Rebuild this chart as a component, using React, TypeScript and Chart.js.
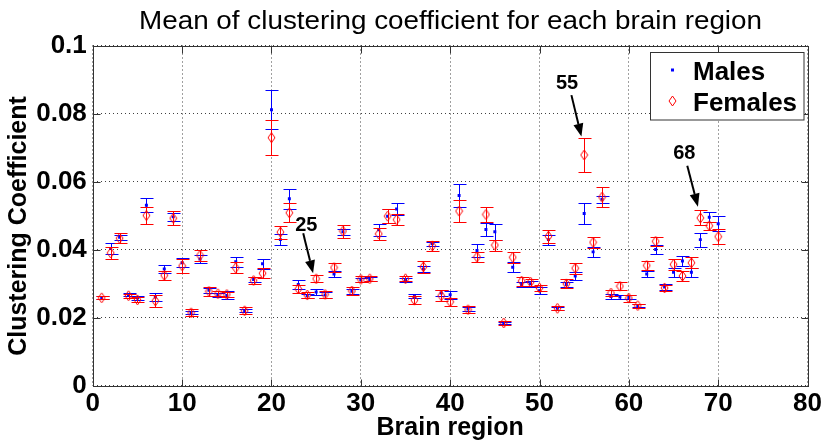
import { useEffect, useRef } from 'react';
import { Chart, registerables } from 'chart.js';

Chart.register(...registerables);

// Brain region index (1..70)
const regions = [
  1, 2, 3, 4, 5, 6, 7, 8, 9, 10, 11, 12, 13, 14, 15, 16, 17, 18, 19, 20,
  21, 22, 23, 24, 25, 26, 27, 28, 29, 30, 31, 32, 33, 34, 35, 36, 37, 38, 39, 40,
  41, 42, 43, 44, 45, 46, 47, 48, 49, 50, 51, 52, 53, 54, 55, 56, 57, 58, 59, 60,
  61, 62, 63, 64, 65, 66, 67, 68, 69, 70,
];

const malesMean = [
  0.0259, 0.0403, 0.0436, 0.0267, 0.0257, 0.0530, 0.0260, 0.0343, 0.0496, 0.0361,
  0.0214, 0.0372, 0.0280, 0.0266, 0.0265, 0.0364, 0.0220, 0.0312, 0.0358, 0.0811,
  0.0429, 0.0549, 0.0297, 0.0264, 0.0275, 0.0266, 0.0328, 0.0452, 0.0277, 0.0311,
  0.0312, 0.0458, 0.0498, 0.0519, 0.0310, 0.0262, 0.0343, 0.0417, 0.0272, 0.0267,
  0.0559, 0.0225, 0.0397, 0.0459, 0.0452, 0.0184, 0.0348, 0.0297, 0.0299, 0.0279,
  0.0429, 0.0227, 0.0297, 0.0322, 0.0506, 0.0393, 0.0548, 0.0262, 0.0260, 0.0259,
  0.0235, 0.0328, 0.0400, 0.0290, 0.0333, 0.0366, 0.0333, 0.0429, 0.0495, 0.0476,
];

const malesErr = [
  0.0004, 0.0015, 0.0008, 0.0005, 0.0006, 0.0021, 0.0011, 0.0011, 0.0012, 0.0013,
  0.0005, 0.0012, 0.0007, 0.0006, 0.0012, 0.0014, 0.0005, 0.0008, 0.0014, 0.0058,
  0.0017, 0.0030, 0.0013, 0.0006, 0.0008, 0.0010, 0.0010, 0.0008, 0.0007, 0.0006,
  0.0006, 0.0018, 0.0020, 0.0017, 0.0007, 0.0006, 0.0008, 0.0006, 0.0008, 0.0012,
  0.0033, 0.0006, 0.0018, 0.0018, 0.0024, 0.0004, 0.0015, 0.0008, 0.0008, 0.0010,
  0.0015, 0.0005, 0.0008, 0.0013, 0.0032, 0.0015, 0.0010, 0.0008, 0.0007, 0.0006,
  0.0005, 0.0010, 0.0013, 0.0008, 0.0013, 0.0015, 0.0013, 0.0021, 0.0014, 0.0023,
];

const femalesMean = [
  0.0258, 0.0390, 0.0433, 0.0264, 0.0252, 0.0500, 0.0249, 0.0324, 0.0492, 0.0352,
  0.0214, 0.0383, 0.0277, 0.0270, 0.0268, 0.0346, 0.0220, 0.0309, 0.0330, 0.0729,
  0.0451, 0.0508, 0.0284, 0.0266, 0.0314, 0.0268, 0.0347, 0.0454, 0.0278, 0.0312,
  0.0314, 0.0446, 0.0498, 0.0488, 0.0314, 0.0251, 0.0349, 0.0411, 0.0264, 0.0246,
  0.0513, 0.0223, 0.0378, 0.0503, 0.0413, 0.0184, 0.0377, 0.0307, 0.0304, 0.0287,
  0.0439, 0.0227, 0.0299, 0.0345, 0.0678, 0.0421, 0.0554, 0.0272, 0.0292, 0.0257,
  0.0235, 0.0353, 0.0424, 0.0287, 0.0356, 0.0322, 0.0361, 0.0493, 0.0470, 0.0438,
];

const femalesErr = [
  0.0005, 0.0017, 0.0015, 0.0006, 0.0007, 0.0025, 0.0017, 0.0013, 0.0021, 0.0020,
  0.0011, 0.0016, 0.0013, 0.0008, 0.0008, 0.0016, 0.0010, 0.0010, 0.0015, 0.0052,
  0.0019, 0.0028, 0.0013, 0.0010, 0.0010, 0.0010, 0.0013, 0.0019, 0.0012, 0.0009,
  0.0008, 0.0017, 0.0020, 0.0017, 0.0008, 0.0011, 0.0017, 0.0015, 0.0016, 0.0011,
  0.0032, 0.0010, 0.0016, 0.0022, 0.0016, 0.0006, 0.0017, 0.0013, 0.0010, 0.0010,
  0.0019, 0.0006, 0.0013, 0.0016, 0.0049, 0.0016, 0.0030, 0.0010, 0.0011, 0.0010,
  0.0006, 0.0014, 0.0014, 0.0010, 0.0015, 0.0015, 0.0016, 0.0022, 0.0012, 0.0022,
];

const xTickLabels = ['0', '10', '20', '30', '40', '50', '60', '70', '80'];
const yTickLabels = ['0', '0.02', '0.04', '0.06', '0.08', '0.1'];

// Numbered callouts, in data coordinates: label centre, arrow tail, arrow head
const callouts = [
  { text: '25', at: [23.9, 0.0471], from: [23.55, 0.0448], to: [24.66, 0.033] },
  { text: '55', at: [53.08, 0.0887], from: [53.57, 0.0854], to: [54.69, 0.0732] },
  { text: '68', at: [66.21, 0.0681], from: [66.54, 0.0646], to: [67.73, 0.0526] },
];

const TITLE = 'Mean of clustering coefficient for each brain region';
const Y_TITLE = 'Clustering Coefficient';
const FONT = '"Liberation Sans", Arial, Helvetica, sans-serif';
const BLUE = '#0000ff';
const RED = '#ff0000';

// Error-bar spec per dataset index
const errorSpec = [
  { err: femalesErr, color: RED },
  { err: malesErr, color: BLUE },
];

function makeDiamond(): HTMLCanvasElement {
  const c = document.createElement('canvas');
  c.width = 9;
  c.height = 12;
  const g = c.getContext('2d')!;
  g.strokeStyle = RED;
  g.lineWidth = 1;
  g.beginPath();
  g.moveTo(4.5, 1);
  g.lineTo(8, 6);
  g.lineTo(4.5, 11);
  g.lineTo(1, 6);
  g.closePath();
  g.stroke();
  return c;
}

const errorBarsPlugin = {
  id: 'errorBars',
  beforeDatasetDraw(chart: any, args: any) {
    const spec = errorSpec[args.index];
    if (!spec) return;
    const ds = chart.data.datasets[args.index];
    const { ctx } = chart;
    const xs = chart.scales.x;
    const ys = chart.scales.y;
    ctx.save();
    ctx.strokeStyle = spec.color;
    ctx.lineWidth = 1;
    ds.data.forEach((p: any, i: number) => {
      const e = spec.err[i];
      const px = Math.round(xs.getPixelForValue(p.x)) + 0.5;
      const top = Math.round(ys.getPixelForValue(p.y + e)) + 0.5;
      const bot = Math.round(ys.getPixelForValue(p.y - e)) + 0.5;
      ctx.beginPath();
      ctx.moveTo(px, top);
      ctx.lineTo(px, bot);
      ctx.moveTo(px - 6, top);
      ctx.lineTo(px + 7, top);
      ctx.moveTo(px - 6, bot);
      ctx.lineTo(px + 7, bot);
      ctx.stroke();
    });
    ctx.restore();
  },
};

const framePlugin = {
  id: 'frame',
  beforeDatasetsDraw(chart: any) {
    const { ctx, chartArea: a } = chart;
    const xs = chart.scales.x;
    const ys = chart.scales.y;
    const L = Math.round(a.left) + 0.5;
    const R = Math.round(a.right) + 0.5;
    const T = Math.round(a.top) + 0.5;
    const B = Math.round(a.bottom) + 0.5;
    ctx.save();
    ctx.strokeStyle = '#333';
    ctx.lineWidth = 1;
    ctx.strokeRect(L, T, R - L, B - T);
    const tl = 7;
    ctx.beginPath();
    xs.ticks.forEach((t: any) => {
      const px = Math.round(xs.getPixelForValue(t.value)) + 0.5;
      ctx.moveTo(px, B);
      ctx.lineTo(px, B - tl);
      ctx.moveTo(px, T);
      ctx.lineTo(px, T + tl);
    });
    ys.ticks.forEach((t: any) => {
      const py = Math.round(ys.getPixelForValue(t.value)) + 0.5;
      ctx.moveTo(L, py);
      ctx.lineTo(L + tl, py);
      ctx.moveTo(R, py);
      ctx.lineTo(R - tl, py);
    });
    ctx.stroke();
    ctx.restore();
  },
};

function makeOverlayPlugin(diamond: HTMLCanvasElement) {
  return {
    id: 'overlay',
    afterDraw(chart: any) {
      const { ctx } = chart;
      const xs = chart.scales.x;
      const ys = chart.scales.y;

      // Title
      ctx.save();
      ctx.fillStyle = '#000';
      ctx.font = `25px ${FONT}`;
      ctx.textAlign = 'center';
      ctx.textBaseline = 'alphabetic';
      const w = ctx.measureText(TITLE).width;
      ctx.translate(450.5, 29);
      ctx.scale(623 / w, 1);
      ctx.fillText(TITLE, 0, 0);
      ctx.restore();

      // Vertical axis title
      ctx.save();
      ctx.fillStyle = '#000';
      ctx.font = `bold 25px ${FONT}`;
      ctx.textAlign = 'center';
      ctx.textBaseline = 'middle';
      ctx.translate(19, 226);
      ctx.rotate(-Math.PI / 2);
      ctx.fillText(Y_TITLE, 0, 0);
      ctx.restore();

      // Callouts with arrows
      ctx.save();
      ctx.fillStyle = '#000';
      ctx.strokeStyle = '#000';
      ctx.font = `bold 20px ${FONT}`;
      ctx.textAlign = 'center';
      ctx.textBaseline = 'middle';
      callouts.forEach((c) => {
        const tx = xs.getPixelForValue(c.at[0]);
        const ty = ys.getPixelForValue(c.at[1]);
        ctx.fillText(c.text, tx, ty);
        const x0 = xs.getPixelForValue(c.from[0]);
        const y0 = ys.getPixelForValue(c.from[1]);
        const x1 = xs.getPixelForValue(c.to[0]);
        const y1 = ys.getPixelForValue(c.to[1]);
        const ang = Math.atan2(y1 - y0, x1 - x0);
        const hl = 13;
        const hw = 5;
        const bx = x1 - hl * Math.cos(ang);
        const by = y1 - hl * Math.sin(ang);
        ctx.lineWidth = 2;
        ctx.beginPath();
        ctx.moveTo(x0, y0);
        ctx.lineTo(bx, by);
        ctx.stroke();
        ctx.beginPath();
        ctx.moveTo(x1, y1);
        ctx.lineTo(bx + hw * Math.sin(ang), by - hw * Math.cos(ang));
        ctx.lineTo(bx - hw * Math.sin(ang), by + hw * Math.cos(ang));
        ctx.closePath();
        ctx.fill();
      });
      ctx.restore();

      // Legend
      ctx.save();
      const lx = 650.5;
      const ly = 52.5;
      const lw = 153.5;
      const lh = 67.5;
      ctx.fillStyle = '#fff';
      ctx.fillRect(lx, ly, lw, lh);
      ctx.strokeStyle = '#333';
      ctx.lineWidth = 1;
      ctx.strokeRect(lx, ly, lw, lh);
      ctx.fillStyle = BLUE;
      ctx.fillRect(671, 68.5, 3, 3);
      ctx.drawImage(diamond, 668, 95);
      ctx.fillStyle = '#000';
      ctx.font = `bold 26px ${FONT}`;
      ctx.textAlign = 'left';
      ctx.textBaseline = 'alphabetic';
      ctx.fillText('Males', 693, 80);
      ctx.fillText('Females', 693, 111);
      ctx.restore();
    },
  };
}

export default function App() {
  const canvasRef = useRef<HTMLCanvasElement | null>(null);

  useEffect(() => {
    const canvas = canvasRef.current;
    if (!canvas) return;
    const diamond = makeDiamond();
    const tickFont = { family: FONT, size: 26, weight: 'bold' as const };
    const titleFont = { family: FONT, size: 25, weight: 'bold' as const };

    const chart = new Chart(canvas, {
      type: 'scatter',
      data: {
        datasets: [
          {
            label: 'Females',
            data: regions.map((r, i) => ({ x: r, y: femalesMean[i] })),
            pointStyle: diamond,
            pointRadius: 5,
            borderWidth: 0,
          } as any,
          {
            label: 'Males',
            data: regions.map((r, i) => ({ x: r, y: malesMean[i] })),
            pointStyle: 'rect',
            pointRadius: 2.1,
            backgroundColor: BLUE,
            borderColor: BLUE,
            borderWidth: 0,
          } as any,
        ],
      },
      options: {
        animation: false,
        responsive: false,
        devicePixelRatio: 1,
        events: [],
        layout: { padding: { top: 45.5, right: 16.7, left: 0, bottom: 0 } },
        plugins: {
          legend: { display: false },
          tooltip: { enabled: false },
          title: { display: false },
        },
        scales: {
          x: {
            type: 'linear',
            min: 0,
            max: 80,
            afterFit: (s: any) => {
              s.height = 57.5;
            },
            ticks: {
              stepSize: 10,
              font: tickFont,
              color: '#000',
              padding: 3,
              maxRotation: 0,
              callback: (_v: any, i: number) => xTickLabels[i],
            },
            grid: { color: 'rgba(0,0,0,0.75)', lineWidth: 1, drawTicks: false },
            border: { display: false, dash: [1, 3] },
            title: {
              display: true,
              text: 'Brain region',
              font: titleFont,
              color: '#000',
              padding: { top: 0, bottom: 0 },
            },
          },
          y: {
            type: 'linear',
            min: 0,
            max: 0.1,
            afterFit: (s: any) => {
              s.width = 92.8;
            },
            ticks: {
              stepSize: 0.02,
              font: tickFont,
              color: '#000',
              padding: 6,
              callback: (_v: any, i: number) => yTickLabels[i],
            },
            grid: { color: 'rgba(0,0,0,0.75)', lineWidth: 1, drawTicks: false },
            border: { display: false, dash: [1, 3] },
            title: { display: false },
          },
        },
      } as any,
      plugins: [framePlugin, errorBarsPlugin, makeOverlayPlugin(diamond)],
    });

    return () => chart.destroy();
  }, []);

  return (
    <div style={{ position: 'absolute', left: 0, top: 0, width: 825, height: 443, background: '#fff' }}>
      <canvas ref={canvasRef} width={825} height={443} style={{ display: 'block' }} />
    </div>
  );
}
